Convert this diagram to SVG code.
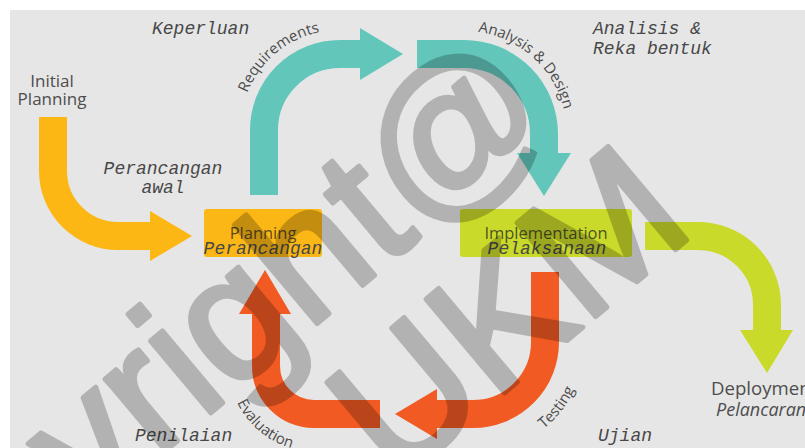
<svg xmlns="http://www.w3.org/2000/svg" width="805" height="448" viewBox="0 0 805 448">
<style>
.bar{fill:none;stroke-width:28;stroke-linecap:butt}
.teal{stroke:#62c6bb}.tealf{fill:#62c6bb}
.yel{stroke:#fcb715}.yelf{fill:#fcb715}
.org{stroke:#f15a22}.orgf{fill:#f15a22}
.grn{stroke:#c9da2a}.grnf{fill:#c9da2a}
.sans{font-family:"Open Sans","Liberation Sans",sans-serif;fill:#4d4d4d}
.boxt{font-family:"Open Sans","Liberation Sans",sans-serif;font-size:16.5px;fill:#222;fill-opacity:0.75;text-anchor:middle}
.mono{font-family:"Liberation Mono","DejaVu Sans Mono",monospace;font-style:italic;font-size:18px;fill:#484848}
.curv{font-family:"Open Sans","Liberation Sans",sans-serif;font-size:15px;fill:#4d4d4d}
.wm{font-family:"Liberation Sans",Arial,sans-serif;font-size:178px;fill:#000;stroke:#000;stroke-width:5;stroke-linejoin:round}
</style>
<defs>
<path id="pReq" d="M241.5,112.6 A100,100 0 0 1 348.7,30.4"/>
<path id="pAna" d="M455,31.4 A103,103 0 0 1 567,134"/>
<path id="pEva" d="M231.9,388 A85,85 0 0 0 321.4,450.7"/>
<path id="pTes" d="M511.3,447.2 A112,112 0 0 0 585,342"/>
</defs>
<rect width="805" height="448" fill="#ffffff"/>
<rect x="10" y="10" width="795" height="438" fill="#e6e6e6"/>

<g id="connectors">
  <g id="arrow-initial">
    <path class="bar yel" d="M53,117 V171 A65,65 0 0 0 118,236 H152"/>
    <polygon class="yelf" points="150,211 192,236 150,261"/>
  </g>
  <g id="arrow-requirements">
    <path class="bar teal" d="M264,195 V130 A76,76 0 0 1 340,54 H362"/>
    <polygon class="tealf" points="360,28 403,54 360,80"/>
  </g>
  <g id="arrow-analysis">
    <path class="bar teal" d="M417,54 H464 A80,80 0 0 1 544,134 V155"/>
    <polygon class="tealf" points="517,153 571,153 544,196"/>
  </g>
  <g id="arrow-deployment">
    <path class="bar grn" d="M645,236 H698 A69,69 0 0 1 767,305 V332"/>
    <polygon class="grnf" points="740,330 793,330 767,373"/>
  </g>
  <g id="arrow-testing">
    <path class="bar org" d="M545,272 V342 A72,72 0 0 1 473,414 H435"/>
    <polygon class="orgf" points="437,389 437,439 395,414"/>
  </g>
  <g id="arrow-evaluation">
    <path class="bar org" d="M380,414 H314 A48,48 0 0 1 266,366 V312"/>
    <polygon class="orgf" points="239,314 291,314 265,270"/>
  </g>
</g>

<g id="connector-labels">
  <text class="curv"><textPath href="#pReq" startOffset="69.8" text-anchor="middle">Requirements</textPath></text>
  <text class="curv" font-size="15.5"><textPath href="#pAna" startOffset="84.5" text-anchor="middle">Analysis &amp; Design</textPath></text>
  <text class="curv"><textPath href="#pEva" startOffset="51.9" text-anchor="middle">Evaluation</textPath></text>
  <text class="curv"><textPath href="#pTes" startOffset="62.5" text-anchor="middle">Testing</textPath></text>
  <text class="mono" x="152" y="34">Keperluan</text>
  <text class="mono" text-anchor="middle"><tspan x="163" y="174">Perancangan</tspan><tspan x="163" y="193">awal</tspan></text>
  <text class="mono"><tspan x="593" y="34">Analisis &amp;</tspan><tspan x="593" y="54">Reka bentuk</tspan></text>
  <text class="mono" x="135" y="441">Penilaian</text>
  <text class="mono" x="598" y="441">Ujian</text>
</g>

<g id="node-initial-planning">
  <text class="sans" font-size="17" text-anchor="middle"><tspan x="52" y="87">Initial</tspan><tspan x="52" y="105">Planning</tspan></text>
</g>

<g id="node-planning">
  <rect x="204" y="209" width="118" height="48" rx="3" fill="#fbb715"/>
  <text class="boxt" x="263" y="239">Planning</text>
  <text class="mono" x="263" y="254" text-anchor="middle" fill="#2a2a1a">Perancangan</text>
</g>

<g id="node-implementation">
  <rect x="460" y="209" width="172" height="48" rx="3" fill="#c9da2a"/>
  <text class="boxt" x="546" y="239">Implementation</text>
  <text class="mono" x="547" y="254" text-anchor="middle" fill="#2a2a1a">Pelaksanaan</text>
</g>

<g id="node-deployment">
  <text class="sans" font-size="18.6" x="711" y="395">Deployment</text>
  <text class="sans" font-size="18" font-style="italic" x="716" y="416" fill="#2a2a2a">Pelancaran</text>
</g>

<g id="watermark" opacity="0.22">
  <text class="wm" transform="translate(560,120) rotate(-40)" text-anchor="end">Copyright@</text>
  <text class="wm" transform="translate(395,485) rotate(-40)">UKM</text>
</g>
</svg>
